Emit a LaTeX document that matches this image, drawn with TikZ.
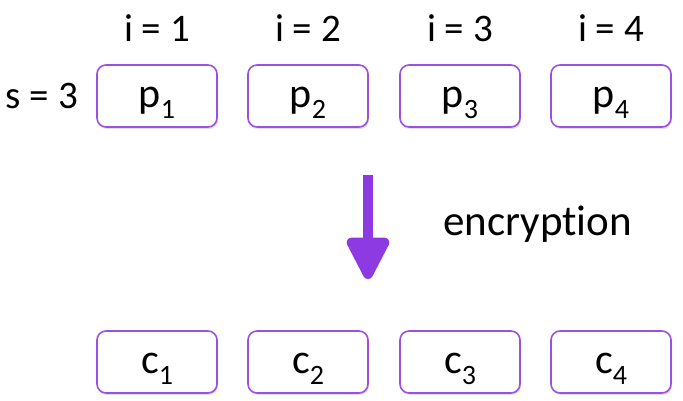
\documentclass[tikz,border=0pt]{standalone}
\usepackage{fontspec}
\setmainfont{Carlito}[Ligatures=NoCommon]
\usetikzlibrary{arrows.meta,shadows}
\definecolor{boxline}{RGB}{155,80,225}
\definecolor{arrowcol}{RGB}{142,58,226}
\newcommand{\idx}[1]{\raisebox{-11pt}{\fontsize{28}{28}\selectfont #1}}

\begin{document}
\begin{tikzpicture}[x=1pt,y=-1pt,font=\fontsize{39}{39}\selectfont,
  block/.style={draw=boxline,line width=1.6pt,rounded corners=9pt,fill=white,
    minimum width=120pt,minimum height=62pt,inner sep=0pt,
    font=\fontsize{42}{42}\selectfont,text height=26pt,text depth=4pt,
    drop shadow={shadow xshift=1pt,shadow yshift=-2pt,opacity=0.12,fill=black}}]
\useasboundingbox (0,0) rectangle (683,400);

% plaintext blocks
\foreach \n/\x in {1/157,2/308,3/460,4/611}{
  \node (i\n) at (\x,28) {i = \n};
  \node[block] (p\n) at (\x,96) {p\idx{\n}};
  \node[block] (c\n) at (\x,362) {c\idx{\n}};
}
\node[anchor=base east,inner sep=0pt] (s) at (78,108) {s = 3};

% encryption step
\coordinate (top) at (368,175);
\coordinate (bot) at (368,279);
\draw[arrowcol,line width=10pt,-{Triangle[width=46pt,length=48pt,round]}] (top) -- (bot);
\node[font=\fontsize{43}{43}\selectfont,anchor=base west,inner sep=0pt] (enc) at (443,235) {encryption};
\end{tikzpicture}
\end{document}
